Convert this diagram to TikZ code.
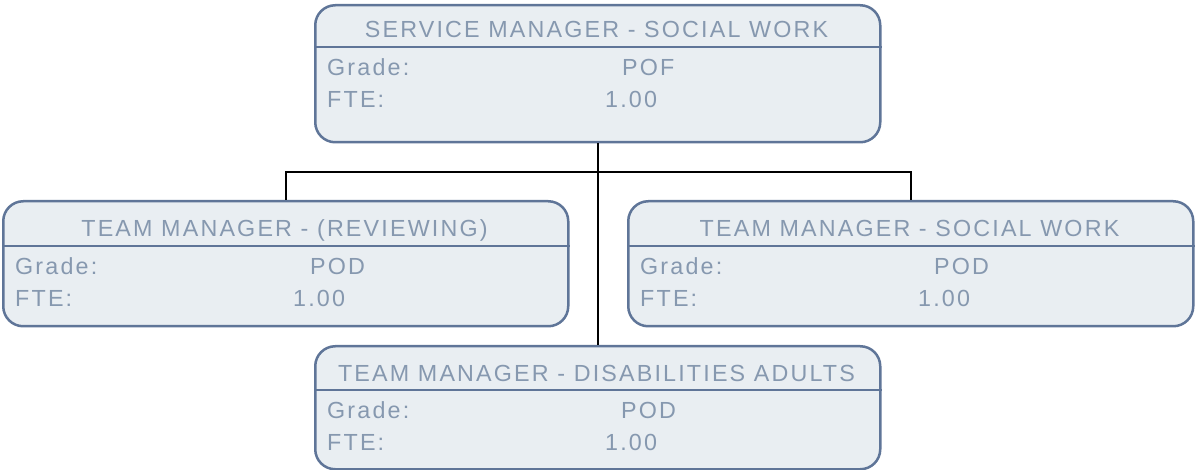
\documentclass[tikz,border=0pt]{standalone}
\usepackage{fontspec}
\setmainfont{Liberation Sans}[LetterSpace=9.3]
\usetikzlibrary{positioning}

\definecolor{boxfill}{HTML}{E9EEF2}
\definecolor{boxline}{HTML}{5F7598}
\definecolor{boxtext}{HTML}{8698AF}

\begin{document}
\begin{tikzpicture}[
    x=1pt, y=-1pt,
    box/.style={draw=boxline, fill=boxfill, line width=2.5pt, rounded corners=20pt,
                minimum width=565pt, anchor=north west, inner sep=0pt},
    divider/.style={draw=boxline, line width=2.5pt},
    title/.style={anchor=base, text=boxtext, inner sep=0pt},
    field/.style={anchor=base west, text=boxtext, inner sep=0pt},
    link/.style={draw=black, line width=2pt},
    font=\fontsize{23.3pt}{27pt}\selectfont
]
\useasboundingbox (0,0) rectangle (1195,470);

% Service manager
\node[box, minimum height=137pt] (svc) at (314,4) {};
\draw[divider] (svc.west |- 0,47) -- (svc.east |- 0,47);
\node[title] (svc-t) at (596.5,38) {SERVICE MANAGER - SOCIAL WORK};
\node[field] (svc-g) at (327,76) {Grade:};
\node[field] (svc-gv) at (622,76) {POF};
\node[field] (svc-f) at (327,108) {FTE:};
\node[field] (svc-fv) at (605,108) {1.00};

% Team manager - reviewing
\node[box, minimum height=125pt] (rev) at (2,200) {};
\draw[divider] (rev.west |- 0,246) -- (rev.east |- 0,246);
\node[title] (rev-t) at (284.5,237) {TEAM MANAGER - (REVIEWING)};
\node[field] (rev-g) at (15,275) {Grade:};
\node[field] (rev-gv) at (310,275) {POD};
\node[field] (rev-f) at (15,307) {FTE:};
\node[field] (rev-fv) at (293,307) {1.00};

% Team manager - social work
\node[box, minimum height=125pt] (sw) at (627,200) {};
\draw[divider] (sw.west |- 0,246) -- (sw.east |- 0,246);
\node[title] (sw-t) at (909.5,237) {TEAM MANAGER - SOCIAL WORK};
\node[field] (sw-g) at (640,275) {Grade:};
\node[field] (sw-gv) at (934,275) {POD};
\node[field] (sw-f) at (640,307) {FTE:};
\node[field] (sw-fv) at (918,307) {1.00};

% Team manager - disabilities adults
\node[box, minimum height=123pt] (dis) at (314,345) {};
\draw[divider] (dis.west |- 0,390) -- (dis.east |- 0,390);
\node[title] (dis-t) at (596.5,382) {TEAM MANAGER - DISABILITIES ADULTS};
\node[field] (dis-g) at (327,418) {Grade:};
\node[field] (dis-gv) at (621,418) {POD};
\node[field] (dis-f) at (327,450) {FTE:};
\node[field] (dis-fv) at (605,450) {1.00};

% Reporting lines
\coordinate (bus) at (597,172);
\draw[link] (svc.south) -- (dis.north);
\draw[link] (rev.north) |- (bus) -| (sw.north);

\end{tikzpicture}
\end{document}
